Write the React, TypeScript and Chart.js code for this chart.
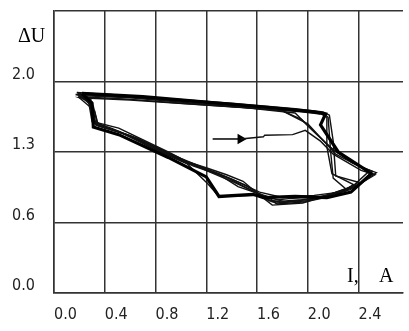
import React, { useEffect, useRef } from 'react';
import { Chart, registerables } from 'chart.js';

Chart.register(...registerables);

// Axis ticks
const xTickValues = [0, 0.4, 0.8, 1.2, 1.6, 2.0, 2.4];
const xTickLabels = ['0.0', '0.4', '0.8', '1.2', '1.6', '2.0', '2.4'];
const yTickValues = [0, 0.65, 1.3, 1.95, 2.6];
const yTickLabels = ['0.0', '0.6', '1.3', '2.0', ''];
const yAxisTitle = 'ΔU';
const xAxisTitleParts = ['I,', 'A'];

// Hysteresis traces [I, ΔU]
const loop1 = [
  [0.17, 1.83], [0.45, 1.83], [0.9, 1.78], [1.4, 1.73], [1.85, 1.69], [2.12, 1.66], [2.16, 1.62],
  [2.18, 1.3], [2.2, 1.06], [2.3, 0.96], [2.1, 0.88], [1.95, 0.86], [1.72, 0.84], [1.6, 0.9],
  [1.3, 0.89], [1.21, 1.01], [1.05, 1.19], [0.8, 1.32], [0.51, 1.49], [0.33, 1.55], [0.29, 1.7],
  [0.28, 1.8], [0.17, 1.83],
];
const loop2 = [
  [0.2, 1.82], [0.6, 1.8], [1.1, 1.75], [1.6, 1.7], [1.8, 1.68], [2.0, 1.56], [2.22, 1.28],
  [2.4, 1.17], [2.54, 1.11], [2.38, 0.98], [2.2, 0.92], [1.96, 0.83], [1.72, 0.81], [1.59, 0.93],
  [1.49, 1.03], [1.36, 1.09], [1.21, 1.15], [1.05, 1.21], [0.9, 1.3], [0.51, 1.52], [0.34, 1.57],
  [0.31, 1.72], [0.2, 1.82],
];
const loop3 = [
  [0.22, 1.84], [0.7, 1.81], [1.2, 1.76], [1.7, 1.71], [2.05, 1.67], [2.14, 1.65], [2.1, 1.55],
  [2.24, 1.3], [2.45, 1.14], [2.5, 1.1], [2.34, 0.93], [2.15, 0.88], [1.9, 0.89], [1.65, 0.88],
  [1.57, 0.91], [1.3, 0.89], [1.2, 1.07], [0.9, 1.25], [0.51, 1.46], [0.31, 1.53], [0.3, 1.75],
  [0.22, 1.84],
];
const loop4 = [
  [0.19, 1.81], [0.55, 1.79], [1.0, 1.75], [1.5, 1.71], [1.9, 1.66], [2.02, 1.52], [2.2, 1.32],
  [2.48, 1.12], [2.36, 0.99], [2.25, 0.93], [2.05, 0.9], [1.8, 0.88], [1.62, 0.93], [1.4, 1.05],
  [1.13, 1.17], [0.9, 1.28], [0.6, 1.45], [0.35, 1.54], [0.32, 1.68], [0.19, 1.81],
];
const loop5 = [
  [0.18, 1.85], [0.8, 1.8], [1.4, 1.75], [1.9, 1.7], [2.12, 1.67], [2.17, 1.64], [2.2, 1.4],
  [2.22, 1.08], [2.4, 1.02], [2.3, 0.94], [2.0, 0.85], [1.75, 0.83], [1.68, 0.89], [1.45, 0.98],
  [1.29, 1.1], [1.0, 1.24], [0.7, 1.4], [0.45, 1.52], [0.3, 1.58], [0.27, 1.78], [0.18, 1.85],
];
const loop6 = [
  [1.47, 1.42], [1.65, 1.44], [1.66, 1.455], [1.88, 1.46], [1.98, 1.5], [2.1, 1.4], [2.2, 1.28],
  [2.42, 1.13], [2.53, 1.09], [2.33, 0.95], [2.1, 0.89], [1.85, 0.87], [1.7, 0.85], [1.55, 0.95],
  [1.35, 1.07], [1.1, 1.17], [0.85, 1.3], [0.55, 1.47], [0.33, 1.55], [0.3, 1.76], [0.2, 1.8],
  [0.6, 1.78], [1.1, 1.74], [1.6, 1.7], [1.95, 1.67], [2.1, 1.65],
];
const loop7 = [
  [0.21, 1.83], [0.65, 1.8], [1.15, 1.76], [1.55, 1.72], [1.76, 1.7], [1.95, 1.6], [2.18, 1.34],
  [2.35, 1.2], [2.51, 1.12], [2.4, 1.0], [2.27, 0.95], [2.08, 0.87], [1.82, 0.84], [1.64, 0.9],
  [1.5, 1.0], [1.3, 1.1], [1.0, 1.22], [0.75, 1.37], [0.48, 1.5], [0.32, 1.56], [0.28, 1.74],
  [0.21, 1.83],
];
const loop8 = [
  [0.2, 1.84], [0.5, 1.82], [1.0, 1.77], [1.45, 1.73], [1.85, 1.7], [2.08, 1.67], [2.15, 1.62],
  [2.15, 1.35], [2.19, 1.1], [2.36, 1.0], [2.22, 0.9], [1.98, 0.84], [1.76, 0.82], [1.6, 0.92],
  [1.42, 1.02], [1.22, 1.12], [0.95, 1.26], [0.65, 1.43], [0.4, 1.53], [0.3, 1.6], [0.29, 1.79],
  [0.2, 1.84],
];
const arrowPath = [[1.25, 1.42], [1.47, 1.42]];

const singleLoops = [loop1, loop2, loop4, loop5, loop6, loop7, loop8];
const doubleLoops = [loop3];

const toPts = (a: number[][]) => a.map(([x, y]) => ({ x, y }));

export default function App() {
  const ref = useRef<HTMLCanvasElement>(null);

  useEffect(() => {
    if (!ref.current) return;
    const line = (l: number[][], color: string, width: number) => ({
      data: toPts(l),
      borderColor: color,
      borderWidth: width,
      pointRadius: 0,
      showLine: true,
      fill: false,
      tension: 0,
    });
    const datasets: any[] = [];
    doubleLoops.forEach((l) => {
      datasets.push(line(l, '#000', 3.2));
      datasets.push(line(l, '#b0b0b0', 1.2));
    });
    singleLoops.forEach((l) => datasets.push(line(l, '#111', 1.4)));
    datasets.push({
      data: toPts(arrowPath),
      borderColor: '#000',
      borderWidth: 1.5,
      pointRadius: [0, 4.5],
      pointStyle: 'triangle',
      rotation: 90,
      backgroundColor: '#000',
      pointBackgroundColor: '#000',
      pointBorderColor: '#000',
      showLine: true,
      fill: false,
    });

    const titles = {
      id: 'axisTitles',
      afterDraw(chart: any) {
        const ctx = chart.ctx;
        ctx.save();
        ctx.fillStyle = '#000';
        ctx.textBaseline = 'alphabetic';
        ctx.textAlign = 'left';
        ctx.font = '20px "Liberation Serif", "Times New Roman", serif';
        ctx.fillText(yAxisTitle, 18, 42);
        ctx.fillText(xAxisTitleParts[0], 347, 282);
        ctx.fillText(xAxisTitleParts[1], 379, 282);
        ctx.restore();
      },
    };

    const tickFont = { family: '"DejaVu Sans Condensed", "Liberation Sans", sans-serif', size: 16 };

    const chart = new Chart(ref.current, {
      type: 'scatter',
      data: { datasets },
      options: {
        animation: false,
        responsive: false,
        maintainAspectRatio: false,
        layout: { padding: { top: 11, right: 0, left: 0, bottom: 0 } },
        plugins: { legend: { display: false }, tooltip: { enabled: false } },
        scales: {
          x: {
            type: 'linear',
            min: 0,
            max: 2.75,
            afterBuildTicks: (s: any) => {
              s.ticks = xTickValues.map((v) => ({ value: v }));
            },
            afterFit: (s: any) => {
              s.height = 38;
              s.paddingLeft = 0;
              s.paddingRight = 0;
            },
            grid: { color: '#333', lineWidth: 1.5, drawTicks: false },
            border: { display: true, color: '#333', width: 1.5 },
            ticks: {
              align: 'start',
              padding: 12,
              color: '#222',
              font: tickFont,
              callback: (_v: any, i: number) => xTickLabels[i],
            },
          },
          y: {
            type: 'linear',
            min: 0,
            max: 2.6,
            afterBuildTicks: (s: any) => {
              s.ticks = yTickValues.map((v) => ({ value: v }));
            },
            afterFit: (s: any) => {
              s.width = 54;
              s.paddingTop = 0;
              s.paddingBottom = 0;
            },
            grid: { color: '#333', lineWidth: 1.5, drawTicks: false },
            border: { display: true, color: '#333', width: 1.5 },
            ticks: {
              padding: 19,
              labelOffset: -7,
              color: '#222',
              font: tickFont,
              callback: (_v: any, i: number) => yTickLabels[i],
            },
          },
        },
      } as any,
      plugins: [titles],
    });
    return () => chart.destroy();
  }, []);

  return (
    <div style={{ position: 'absolute', left: 0, top: 0, width: 409, height: 331, background: '#fff' }}>
      <canvas ref={ref} width={409} height={331} style={{ display: 'block' }} />
    </div>
  );
}
